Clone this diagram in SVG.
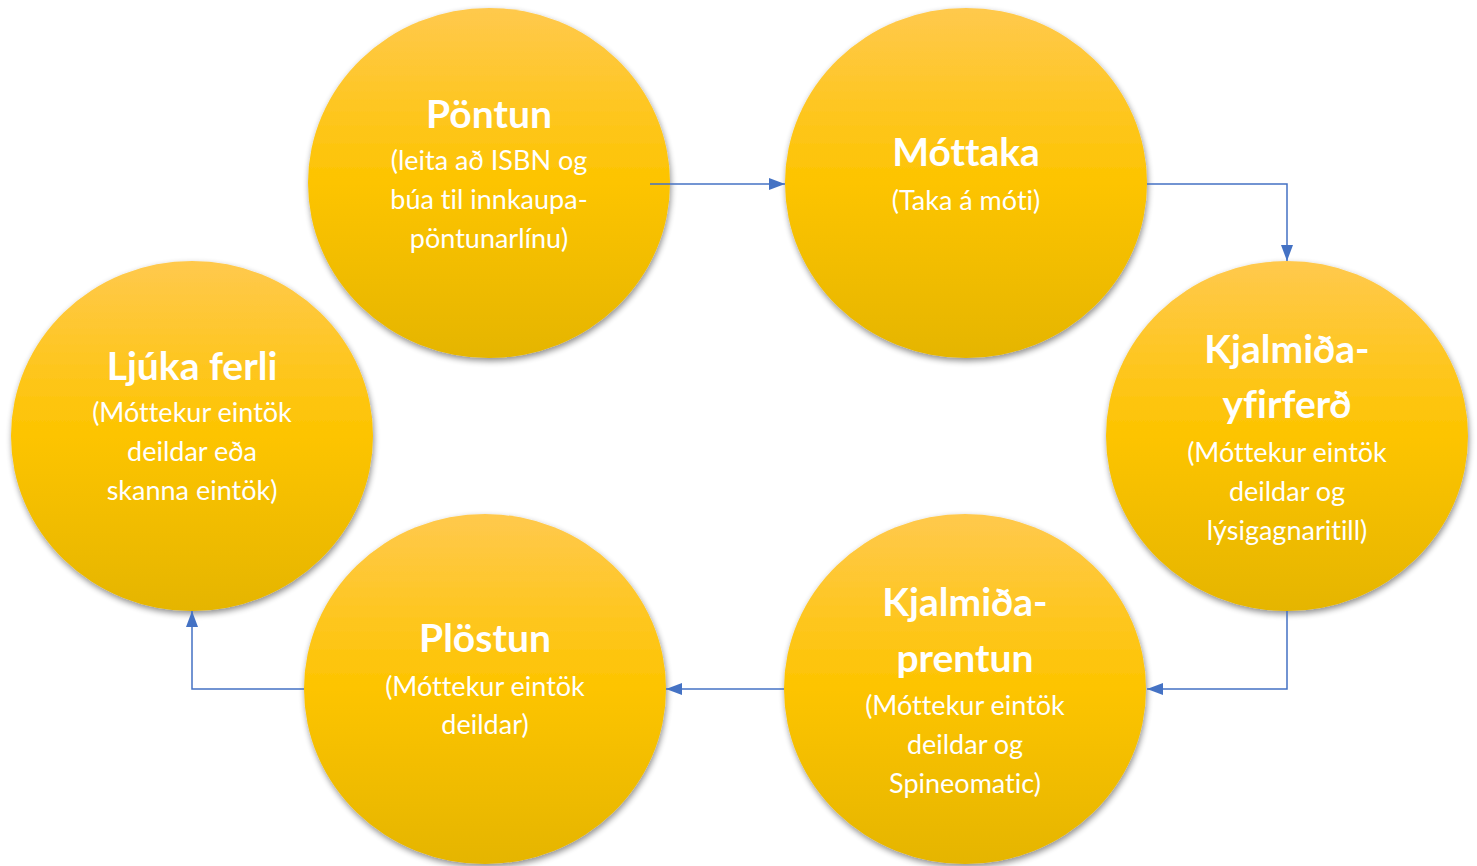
<svg xmlns="http://www.w3.org/2000/svg" width="1477" height="866" viewBox="0 0 1477 866">
  <defs>
    <linearGradient id="gold" x1="0" y1="0" x2="0" y2="1">
      <stop offset="0" stop-color="#FFC94D"/>
      <stop offset="0.5" stop-color="#FDC400"/>
      <stop offset="1" stop-color="#E5B500"/>
    </linearGradient>
    <filter id="shadow" x="-10%" y="-10%" width="125%" height="125%">
      <feGaussianBlur in="SourceAlpha" stdDeviation="3"/>
      <feOffset dx="1" dy="3" result="b"/>
      <feComponentTransfer><feFuncA type="linear" slope="0.45"/></feComponentTransfer>
      <feMerge><feMergeNode/><feMergeNode in="SourceGraphic"/></feMerge>
    </filter>
    <marker id="arrow" viewBox="0 0 16 12" refX="16" refY="6" markerWidth="16" markerHeight="12" markerUnits="userSpaceOnUse" orient="auto">
      <path d="M0,0 L16,6 L0,12 Z" fill="#4472C4"/>
    </marker>
  </defs>
  <style>
    .node { fill: url(#gold); filter: url(#shadow); }
    .title { font-family: Lato, "Open Sans", "Liberation Sans", sans-serif; font-weight: bold; font-size: 39px; fill: #FFFFFF; text-anchor: middle; font-variant-ligatures: none; }
    .sub { font-family: Lato, "Open Sans", "Liberation Sans", sans-serif; font-size: 27px; fill: #FFFFFF; text-anchor: middle; font-variant-ligatures: none; }
    .conn { fill: none; stroke: #4472C4; stroke-width: 1.5; marker-end: url(#arrow); }
  </style>
  <rect width="1477" height="866" fill="#FFFFFF"/>

  <g id="pontun">
    <ellipse class="node" cx="489" cy="183" rx="181" ry="175"/>
    <text class="title" x="489" y="128">Pöntun</text>
    <text class="sub" x="489" y="170">(leita að ISBN og</text>
    <text class="sub" x="489" y="209">búa til innkaupa-</text>
    <text class="sub" x="489" y="248">pöntunarlínu)</text>
  </g>

  <g id="mottaka">
    <ellipse class="node" cx="966" cy="183" rx="181" ry="175"/>
    <text class="title" x="966" y="166">Móttaka</text>
    <text class="sub" x="966" y="210">(Taka á móti)</text>
  </g>

  <g id="kjalmida-yfirferd">
    <ellipse class="node" cx="1287" cy="436" rx="181" ry="175"/>
    <text class="title" x="1287" y="363">Kjalmiða-</text>
    <text class="title" x="1287" y="418">yfirferð</text>
    <text class="sub" x="1287" y="462">(Móttekur eintök</text>
    <text class="sub" x="1287" y="501">deildar og</text>
    <text class="sub" x="1287" y="540">lýsigagnaritill)</text>
  </g>

  <g id="kjalmida-prentun">
    <ellipse class="node" cx="965" cy="689" rx="181" ry="175"/>
    <text class="title" x="965" y="616">Kjalmiða-</text>
    <text class="title" x="965" y="672">prentun</text>
    <text class="sub" x="965" y="715">(Móttekur eintök</text>
    <text class="sub" x="965" y="754">deildar og</text>
    <text class="sub" x="965" y="793">Spineomatic)</text>
  </g>

  <g id="plostun">
    <ellipse class="node" cx="485" cy="689" rx="181" ry="175"/>
    <text class="title" x="485" y="652">Plöstun</text>
    <text class="sub" x="485" y="696">(Móttekur eintök</text>
    <text class="sub" x="485" y="734">deildar)</text>
  </g>

  <g id="ljuka-ferli">
    <ellipse class="node" cx="192" cy="436" rx="181" ry="175"/>
    <text class="title" x="192" y="380">Ljúka ferli</text>
    <text class="sub" x="192" y="422">(Móttekur eintök</text>
    <text class="sub" x="192" y="461">deildar eða</text>
    <text class="sub" x="192" y="500">skanna eintök)</text>
  </g>

  <g id="connectors">
    <path class="conn" d="M650,184 H785"/>
    <path class="conn" d="M1147,184 H1287 V261"/>
    <path class="conn" d="M1287,611 V689 H1147"/>
    <path class="conn" d="M784,689 H666"/>
    <path class="conn" d="M304,689 H192 V611"/>
  </g>
</svg>
